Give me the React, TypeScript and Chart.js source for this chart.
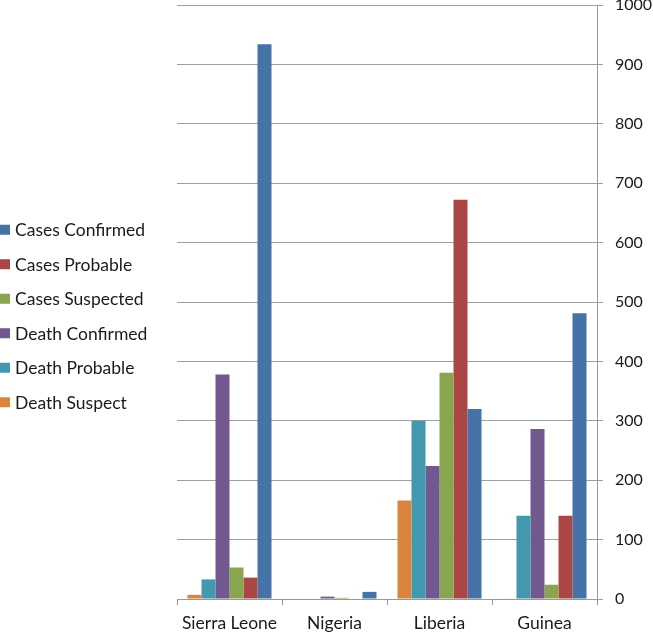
import React, { useEffect, useRef } from "react";
import { Chart, registerables } from "chart.js";

Chart.register(...registerables);

const categories = ["Sierra Leone", "Nigeria", "Liberia", "Guinea"];
const seriesNames = [
  "Death Suspect",
  "Death Probable",
  "Death Confirmed",
  "Cases Suspected",
  "Cases Probable",
  "Cases Confirmed",
];
const deathSuspect = [7, 0, 166, 1];
const deathProbable = [33, 0, 300, 140];
const deathConfirmed = [378, 4, 224, 286];
const casesSuspected = [53, 2, 381, 24];
const casesProbable = [36, 0, 672, 140];
const casesConfirmed = [934, 12, 320, 481];
const seriesColors = ["#DB843D", "#4198AF", "#71588F", "#89A54E", "#AA4643", "#4572A7"];
const yTicks = [0, 100, 200, 300, 400, 500, 600, 700, 800, 900, 1000];

const FONT = "Lato, 'Open Sans', sans-serif";

const legendPlugin = {
  id: "leftLegend",
  afterDraw(chart: any) {
    const ctx = chart.ctx;
    const ds = chart.data.datasets.slice().reverse();
    const spacing = 34.5;
    const n = ds.length;
    const cy = chart.height / 2 - 0.5;
    ctx.save();
    ctx.font = `17.5px ${FONT}`;
    ctx.textBaseline = "middle";
    ctx.textAlign = "left";
    ds.forEach((d: any, i: number) => {
      const y = cy + (i - (n - 1) / 2) * spacing;
      ctx.fillStyle = d.backgroundColor;
      ctx.fillRect(0, y - 5, 10, 10);
      ctx.fillStyle = "#1a1a1a";
      ctx.fillText(d.label, 15, y + 1);
    });
    ctx.restore();
  },
};

export default function App() {
  const ref = useRef<HTMLCanvasElement | null>(null);
  useEffect(() => {
    document.body.style.margin = "0";
    const values = [deathSuspect, deathProbable, deathConfirmed, casesSuspected, casesProbable, casesConfirmed];
    const chart = new Chart(ref.current as HTMLCanvasElement, {
      type: "bar",
      data: {
        labels: categories,
        datasets: values.map((v, i) => ({
          label: seriesNames[i],
          data: v,
          backgroundColor: seriesColors[i],
          borderWidth: 0,
          categoryPercentage: 0.8,
          barPercentage: 1.0,
        })),
      },
      options: {
        animation: false,
        responsive: false,
        maintainAspectRatio: false,
        layout: { padding: { left: 177, right: -2, top: 5, bottom: 0 } },
        plugins: {
          legend: { display: false },
          tooltip: { enabled: false },
        },
        scales: {
          x: {
            afterFit: (scale: any) => {
              scale.height = 34;
              scale.paddingLeft = 0;
              scale.paddingRight = 0;
            },
            grid: {
              display: true,
              drawOnChartArea: false,
              drawTicks: true,
              tickLength: 6,
              color: "#999999",
              offset: true,
            },
            border: { display: true, color: "#999999", width: 1 },
            ticks: {
              color: "#1a1a1a",
              font: { family: FONT, size: 17.5 },
              padding: 8,
            },
          },
          y: {
            position: "right",
            min: 0,
            max: 1000,
            afterBuildTicks: (scale: any) => {
              scale.ticks = yTicks.map((v) => ({ value: v }));
            },
            afterFit: (scale: any) => {
              scale.width = 58;
              scale.paddingTop = 0;
              scale.paddingBottom = 0;
            },
            grid: {
              color: "#a0a0a0",
              lineWidth: 1,
              drawTicks: true,
              tickLength: 6,
            },
            border: { display: true, color: "#999999", width: 1 },
            ticks: {
              color: "#1a1a1a",
              font: { family: FONT, size: 16 },
              padding: 12,
              callback: (v: any) => String(v),
            },
          },
        },
      },
      plugins: [legendPlugin],
    });
    return () => chart.destroy();
  }, []);
  return (
    <div style={{ width: 653, height: 633 }}>
      <canvas ref={ref} width={653} height={633} style={{ display: "block" }} />
    </div>
  );
}
